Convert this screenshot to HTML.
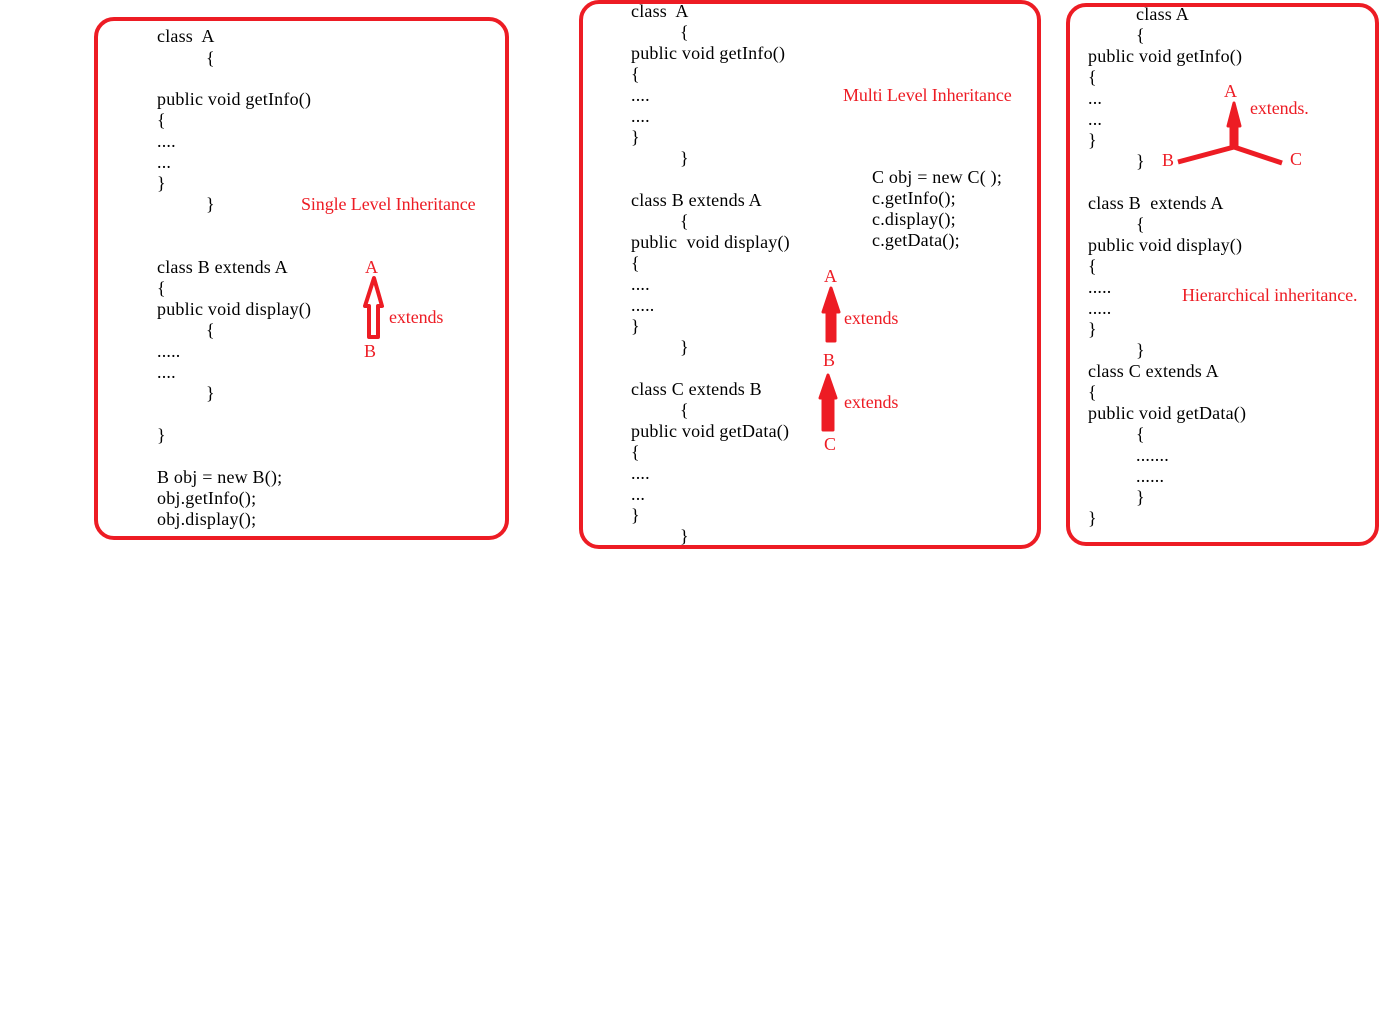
<!DOCTYPE html>
<html><head><style>body{margin:0;background:#fff}svg{display:block}text{font-family:"Liberation Serif",serif;font-size:18px;letter-spacing:0.2px;fill:#000;white-space:pre}text.r{fill:#ed1c24;letter-spacing:-0.1px}</style></head><body>
<svg width="1382" height="1017" viewBox="0 0 1382 1017" xml:space="preserve">
<g fill="none" stroke="#ed1c24" stroke-width="4">
<rect x="96" y="19" width="411" height="519" rx="18"/>
<rect x="581" y="2" width="458" height="545" rx="18"/>
<rect x="1068" y="5" width="309" height="539" rx="18"/>
</g>
<g fill="#ed1c24" stroke="#ed1c24" stroke-linejoin="round">
<path d="M369,337 L369,306 L365,306 L374,278 L382,306 L378,306 L378,337 Z" fill="#fff" stroke-width="4"/>
<path d="M827,341 L827,312 L823,312 L831,288 L839,312 L835,312 L835,341 Z" stroke-width="3"/>
<path d="M823,430 L823,398 L820,398 L828,375 L836,398 L833,398 L833,430 Z" stroke-width="3"/>
<line x1="1234" y1="147" x2="1178" y2="162" stroke-width="5"/>
<line x1="1234" y1="147" x2="1282" y2="163" stroke-width="5"/>
<path d="M1231,147 L1231,126 L1228,126 L1234,103 L1240,126 L1237,126 L1237,147 Z" stroke-width="3"/>
</g>
<g>
<text x="157" y="42">class  A</text><text x="206" y="64">{</text><text x="157" y="105">public void getInfo()</text><text x="157" y="126">{</text><text x="157" y="147">....</text><text x="157" y="168">...</text><text x="157" y="189">}</text><text x="206" y="210">}</text>
<text x="157" y="273">class B extends A</text><text x="157" y="294">{</text><text x="157" y="315">public void display()</text><text x="206" y="336">{</text><text x="157" y="357">.....</text><text x="157" y="378">....</text><text x="206" y="399">}</text><text x="157" y="441">}</text>
<text x="157" y="483">B obj = new B();</text><text x="157" y="504">obj.getInfo();</text><text x="157" y="525">obj.display();</text>
<text class="r" x="301" y="210">Single Level Inheritance</text><text class="r" x="365" y="273">A</text><text class="r" x="389" y="323">extends</text><text class="r" x="364" y="357">B</text>

<text x="631" y="17">class  A</text><text x="680" y="38">{</text><text x="631" y="59">public void getInfo()</text><text x="631" y="80">{</text><text x="631" y="101">....</text><text x="631" y="122">....</text><text x="631" y="143">}</text><text x="680" y="164">}</text>
<text x="872" y="183">C obj = new C( );</text><text x="872" y="204">c.getInfo();</text><text x="872" y="225">c.display();</text><text x="872" y="246">c.getData();</text>
<text x="631" y="206">class B extends A</text><text x="680" y="227">{</text><text x="631" y="248">public  void display()</text><text x="631" y="269">{</text><text x="631" y="290">....</text><text x="631" y="311">.....</text><text x="631" y="332">}</text><text x="680" y="353">}</text>
<text x="631" y="395">class C extends B</text><text x="680" y="416">{</text><text x="631" y="437">public void getData()</text><text x="631" y="458">{</text><text x="631" y="479">....</text><text x="631" y="500">...</text><text x="631" y="521">}</text><text x="680" y="542">}</text>
<text class="r" x="843" y="101">Multi Level Inheritance</text><text class="r" x="824" y="282">A</text><text class="r" x="844" y="324">extends</text><text class="r" x="823" y="366">B</text><text class="r" x="844" y="408">extends</text><text class="r" x="824" y="450">C</text>

<text x="1136" y="20">class A</text><text x="1136" y="41">{</text><text x="1088" y="62">public void getInfo()</text><text x="1088" y="83">{</text><text x="1088" y="104">...</text><text x="1088" y="125">...</text><text x="1088" y="146">}</text><text x="1136" y="167">}</text>
<text x="1088" y="209">class B  extends A</text><text x="1136" y="230">{</text><text x="1088" y="251">public void display()</text><text x="1088" y="272">{</text><text x="1088" y="293">.....</text><text x="1088" y="314">.....</text><text x="1088" y="335">}</text><text x="1136" y="356">}</text>
<text x="1088" y="377">class C extends A</text><text x="1088" y="398">{</text><text x="1088" y="419">public void getData()</text><text x="1136" y="440">{</text><text x="1136" y="461">.......</text><text x="1136" y="482">......</text><text x="1136" y="503">}</text><text x="1088" y="524">}</text>
<text class="r" x="1224" y="97">A</text><text class="r" x="1250" y="114">extends.</text><text class="r" x="1162" y="166">B</text><text class="r" x="1290" y="165">C</text><text class="r" x="1182" y="301">Hierarchical inheritance.</text>
</g>
</svg>
</body></html>
